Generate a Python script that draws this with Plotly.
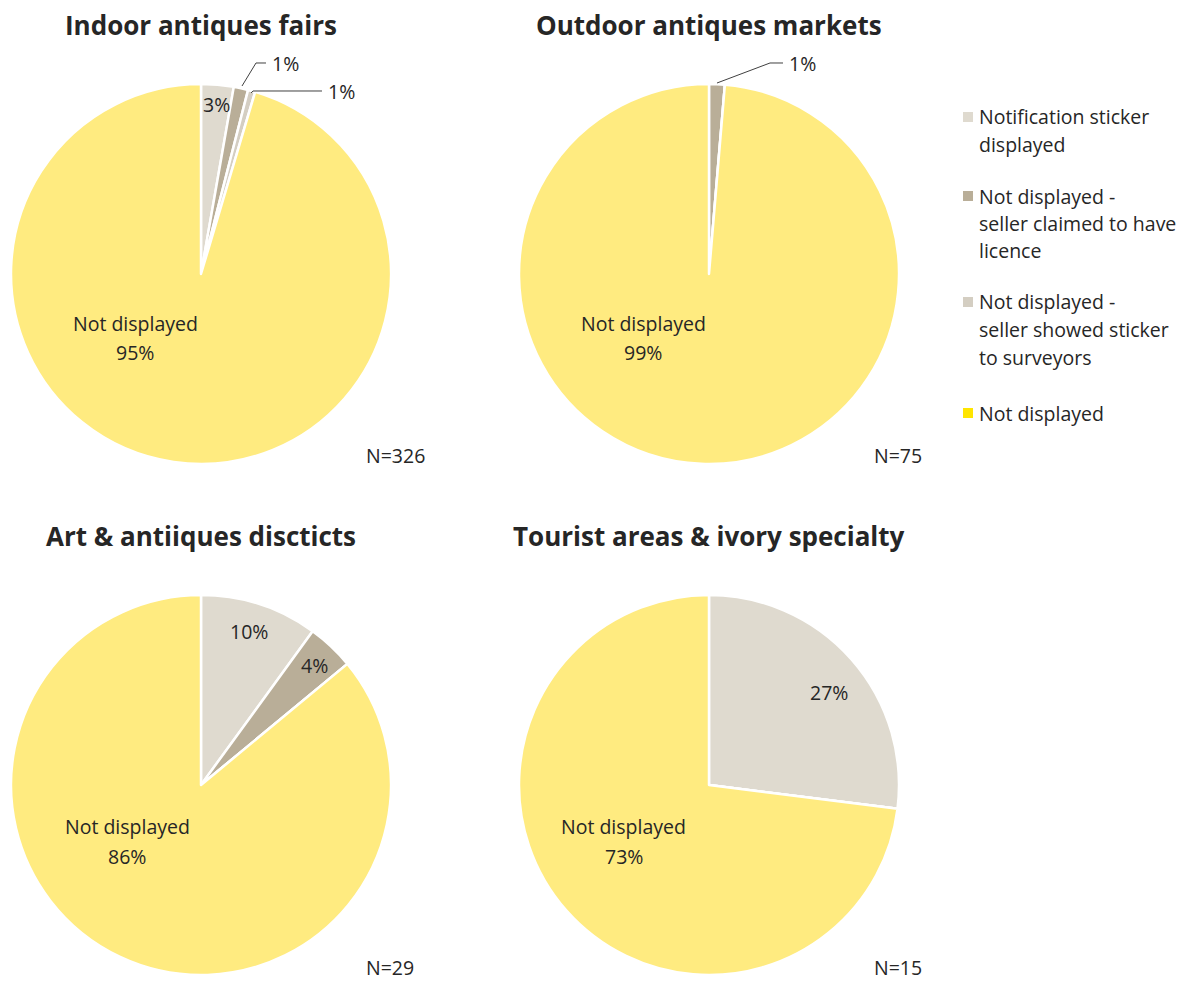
import plotly.graph_objects as go

# ---- data ----
categories = ["Notification sticker displayed",
              "Not displayed - seller claimed to have licence",
              "Not displayed - seller showed sticker to surveyors",
              "Not displayed"]
legend_labels = [["Notification sticker", "displayed"],
                 ["Not displayed -", "seller claimed to have", "licence"],
                 ["Not displayed -", "seller showed sticker", "to surveyors"],
                 ["Not displayed"]]
panel_titles = ["Indoor antiques fairs", "Outdoor antiques markets",
                "Art & antiiques discticts", "Tourist areas & ivory specialty"]
indoor_values = [9, 4, 2, 311]
outdoor_values = [0, 1, 0, 74]
art_values = [10, 4, 0, 86]
tourist_values = [27, 0, 0, 73]
panel_values = [indoor_values, outdoor_values, art_values, tourist_values]
panel_n = ["N=326", "N=75", "N=29", "N=15"]

slice_colors = ["#DFDACF", "#B9AE98", "#D4CEC2", "#FFEB80"]
legend_colors = ["#DFDACF", "#B9AE98", "#D4CEC2", "#FFE500"]

W, H = 1184, 981
FONT = "Open Sans"
TXT = "#262626"
FS = 19.5

# pie geometry in pixels: (center x, center y, radius)
geo = [(201, 274, 190), (709, 274, 190), (201, 785, 190), (709, 785, 190)]


def px(x):
    return x / W


def py(y):
    return 1 - y / H


def label(x, y, text, size=FS, anchor="center", bold=False):
    return dict(x=px(x), y=py(y), xref="paper", yref="paper",
                xanchor=anchor, yanchor="middle",
                text=("<b>%s</b>" % text) if bold else text, showarrow=False,
                font=dict(family=FONT, size=size, color=TXT))


fig = go.Figure()
annotations = []
shapes = []

for i, vals in enumerate(panel_values):
    cx, cy, r = geo[i]
    fig.add_trace(go.Pie(
        labels=categories, values=vals, sort=False, direction="clockwise",
        rotation=0, textinfo="none", hoverinfo="label+percent",
        marker=dict(colors=slice_colors, line=dict(color="white", width=2.5)),
        domain=dict(x=[px(cx - r), px(cx + r)], y=[py(cy + r), py(cy - r)]),
        showlegend=False,
    ))
    annotations.append(label(cx, cy - 249, panel_titles[i], size=26, bold=True))
    annotations.append(label(cx + 163, cy + 182, panel_n[i], anchor="left"))


def pct(vals, k):
    return "%d%%" % round(100 * vals[k] / sum(vals))


# "Not displayed" labels inside big slices
nd_pos = [(135, 338), (643, 338), (127, 841), (624, 841)]
for i, vals in enumerate(panel_values):
    x, y = nd_pos[i]
    annotations.append(label(x, y - 15, "Not displayed"))
    annotations.append(label(x, y + 15, pct(vals, 3)))

# small slice labels
small = [(0, 0, 216, 104), (2, 0, 249, 631), (2, 1, 314, 665), (3, 0, 829, 692)]
for pi, k, x, y in small:
    annotations.append(label(x, y, pct(panel_values[pi], k)))

# leader-line labels
leaders = [
    (0, 1, 270, 63, [(266, 63), (256, 63), (242, 86)]),
    (0, 2, 326, 91, [(322, 91), (253, 91), (251, 93)]),
    (1, 1, 787, 63, [(783, 63), (770, 63), (717, 83)]),
]
for pi, k, x, y, pts in leaders:
    annotations.append(label(x, y, pct(panel_values[pi], k), anchor="left"))
    path = "M %f %f " % (px(pts[0][0]), py(pts[0][1])) + " ".join(
        "L %f %f" % (px(a), py(b)) for a, b in pts[1:])
    shapes.append(dict(type="path", xref="paper", yref="paper", path=path,
                       line=dict(color="#404040", width=1)))

# legend
leg_y = [117, 196, 302, 413]
for j, lines in enumerate(legend_labels):
    y0 = leg_y[j]
    shapes.append(dict(type="rect", xref="paper", yref="paper",
                       x0=px(963), x1=px(973), y0=py(y0 + 5), y1=py(y0 - 5),
                       fillcolor=legend_colors[j], line=dict(width=0)))
    for m, line in enumerate(lines):
        annotations.append(label(977, y0 + m * 27.5, line, anchor="left"))

fig.update_layout(width=W, height=H, margin=dict(l=0, r=0, t=0, b=0),
                  paper_bgcolor="white", plot_bgcolor="white",
                  annotations=annotations, shapes=shapes,
                  font=dict(family=FONT, color=TXT))
fig.write_html("out.html", config={"displayModeBar": False},
               post_script="document.body.style.margin='0';document.body.style.padding='0';")
